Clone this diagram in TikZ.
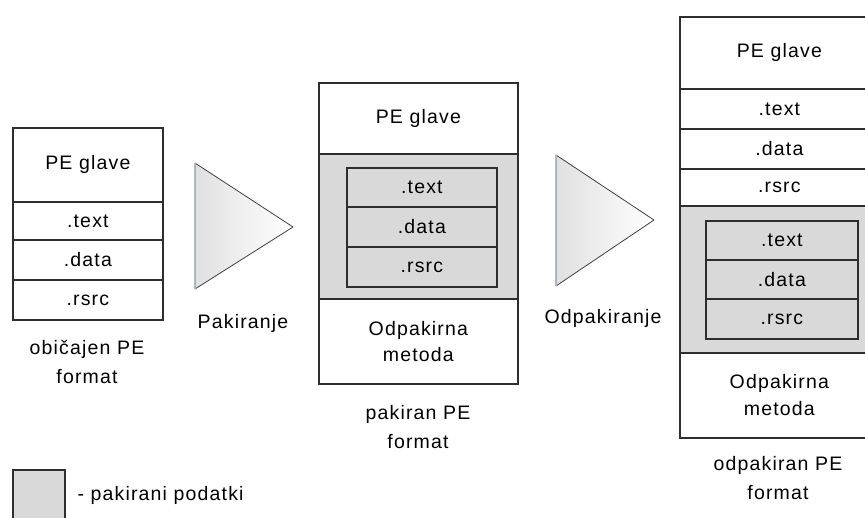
\documentclass[tikz,border=0pt]{standalone}
\usepackage{fontspec}
\setmainfont{Liberation Sans}[LetterSpace=6]
\definecolor{linec}{HTML}{2E2E2E}
\definecolor{packed}{HTML}{D9D9D9}
\definecolor{edgeblue}{HTML}{9DB3C8}
\begin{document}
\begin{tikzpicture}[x=1pt,y=-1pt,
  font=\fontsize{19.5}{23}\selectfont,
  cell/.style={draw=linec,line width=1.7pt,anchor=north west,inner sep=0pt,align=center},
  packedcell/.style={cell,fill=packed},
  caption/.style={align=center,font=\fontsize{19.5}{29}\selectfont},
  arrowshape/.style={left color=packed!80,right color=white,draw=black!75,line width=0.8pt,line join=round}]
\useasboundingbox (0,0) rectangle (865,517);

% ordinary PE file
\node[cell,minimum width=150pt,minimum height=74pt] (lhead) at (12,127) {PE glave};
\node[cell,minimum width=150pt,minimum height=38pt] (ltext) at (12,201) {.text};
\node[cell,minimum width=150pt,minimum height=40pt] (ldata) at (12,239) {.data};
\node[cell,minimum width=150pt,minimum height=40pt] (lrsrc) at (12,279) {.rsrc};
\node[caption] (llabel) at (87,362) {običajen PE\\format};

% packing arrow
\path[arrowshape] (195,163) -- (293,227) -- (195,289) -- cycle;
\draw[edgeblue,line width=1pt] (195,163) -- (195,289);
\node (pack) at (243,323) {Pakiranje};

% packed PE file
\node[cell,minimum width=199pt,minimum height=71pt] (mhead) at (318,82) {PE glave};
\node[packedcell,minimum width=199pt,minimum height=145pt] (mpacked) at (318,153) {};
\node[packedcell,minimum width=150pt,minimum height=39pt] (mtext) at (346,167) {.text};
\node[packedcell,minimum width=150pt,minimum height=40pt] (mdata) at (346,206) {.data};
\node[packedcell,minimum width=150pt,minimum height=40pt] (mrsrc) at (346,246) {.rsrc};
\node[cell,minimum width=199pt,minimum height=85pt,font=\fontsize{19.5}{26}\selectfont] (mstub) at (318,298) {Odpakirna\\metoda};
\node[caption] (mlabel) at (418,427.5) {pakiran PE\\format};

% unpacking arrow
\path[arrowshape] (556,155) -- (654,220) -- (556,286) -- cycle;
\draw[edgeblue,line width=1pt] (556,155) -- (556,286);
\node (unpack) at (603,318) {Odpakiranje};

% unpacked PE file
\node[cell,minimum width=199pt,minimum height=72pt] (rhead) at (679,16) {PE glave};
\node[cell,minimum width=199pt,minimum height=40pt] (rtext) at (679,88) {.text};
\node[cell,minimum width=199pt,minimum height=40pt] (rdata) at (679,128) {.data};
\node[cell,minimum width=199pt,minimum height=37pt] (rrsrc) at (679,168) {.rsrc};
\node[packedcell,minimum width=199pt,minimum height=147pt] (rpacked) at (679,205) {};
\node[packedcell,minimum width=152pt,minimum height=39pt] (rptext) at (705,220) {.text};
\node[packedcell,minimum width=152pt,minimum height=39pt] (rpdata) at (705,259) {.data};
\node[packedcell,minimum width=152pt,minimum height=40pt] (rprsrc) at (705,298) {.rsrc};
\node[cell,minimum width=199pt,minimum height=85pt,font=\fontsize{19.5}{27}\selectfont] (rstub) at (679,352) {Odpakirna\\metoda};
\node[caption] (rlabel) at (778,478.5) {odpakiran PE\\format};

% legend
\node[packedcell,minimum width=52pt,minimum height=60pt] (legbox) at (12,469) {};
\node[anchor=west] (legtext) at (74,495) {- pakirani podatki};
\end{tikzpicture}
\end{document}
